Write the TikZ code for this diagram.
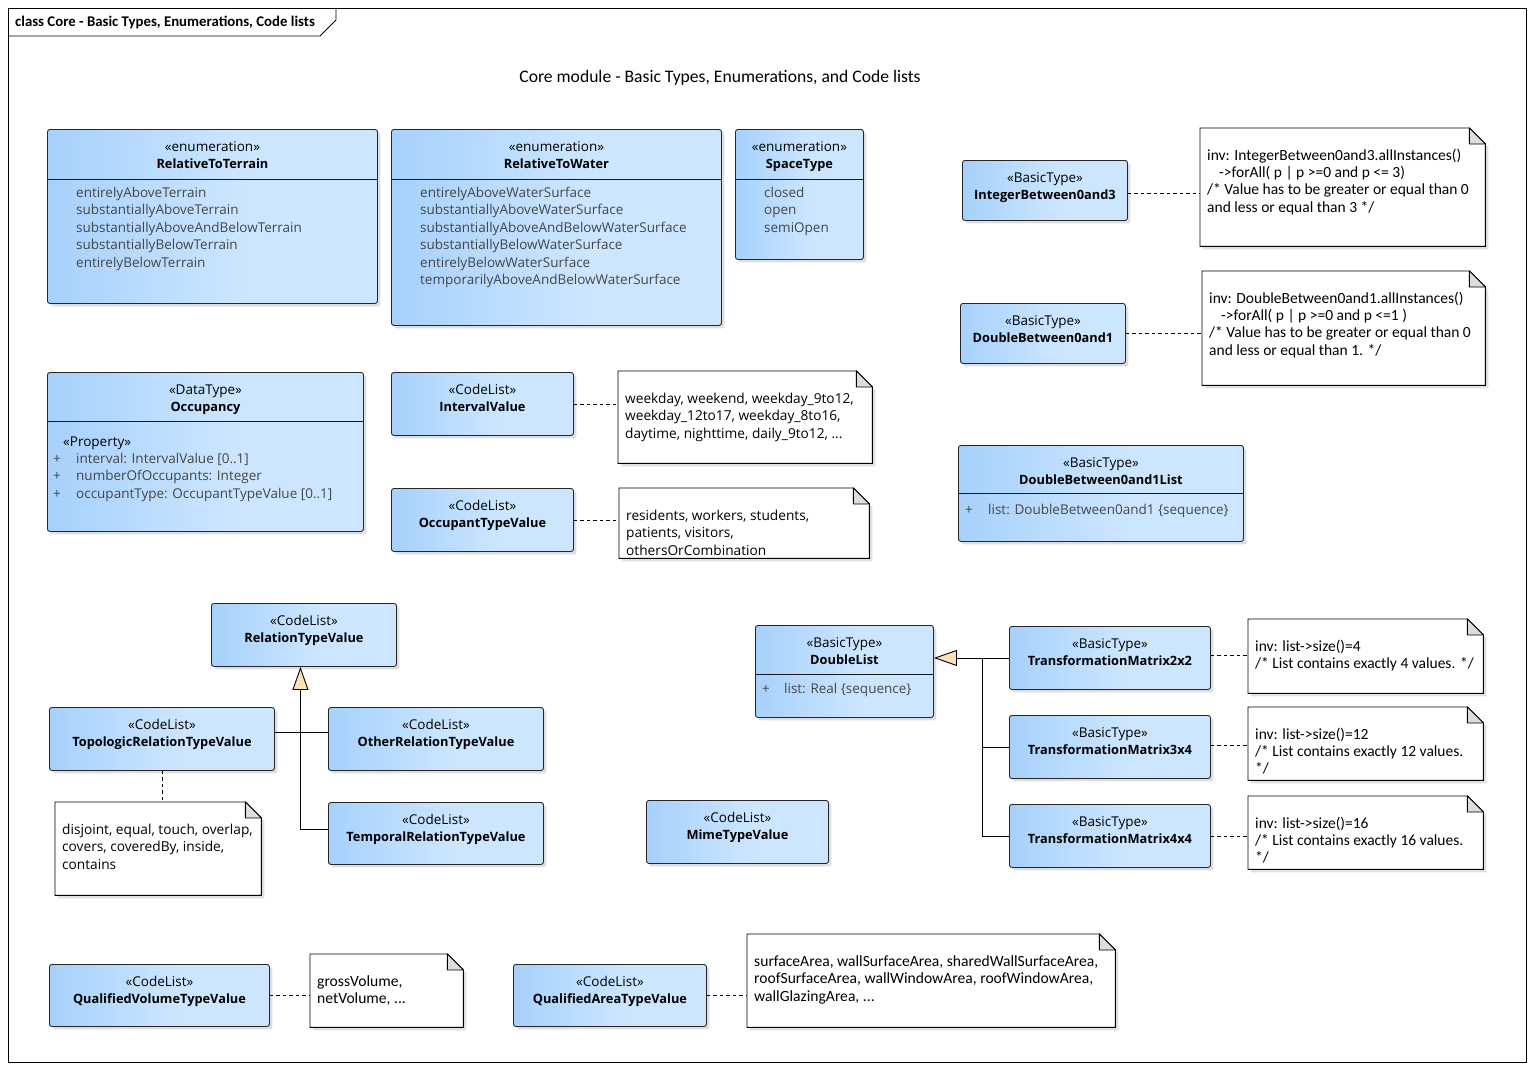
\documentclass[tikz,border=0pt]{standalone}
\usepackage{fontspec}
\setmainfont{Open Sans}
\newfontfamily\notefont{Carlito}
\usetikzlibrary{arrows.meta,shadows,calc}

\definecolor{clsL}{RGB}{166,209,252}
\definecolor{clsR}{RGB}{205,230,255}
\definecolor{tipfill}{RGB}{251,224,184}
\definecolor{attrgray}{RGB}{70,70,70}
\definecolor{foldgray}{RGB}{220,220,220}

% class fill: darker blue at the left edge, fading to light blue towards the middle
\pgfdeclarehorizontalshading{clsgrad}{100bp}{color(0bp)=(clsL); color(25bp)=(clsL); color(55bp)=(clsR); color(100bp)=(clsR)}

% class box with stereotype and name in its head
\newcommand\umlclass[7]{%
  \node[cls, minimum width={#4pt-#2pt}, minimum height={#5pt-#3pt}] (#1) at (#2,#3) {};
  \node[headtxt] (#1-h) at ([yshift=-10pt]#1.north) {\strut«#6»\\{\fontsize{12.8}{17.5}\selectfont\bfseries #7}};
}
% horizontal compartment line inside a class box
\newcommand\compart[3]{\draw[clsline] (#1,#3) -- (#2,#3);}

% note outline with folded corner and soft shadow
\newcommand\drawnote[1]{%
  \fill[black, opacity=0.12] ($(#1.north west)+(3pt,-3pt)$) -- ($(#1.north east)+(-13pt,-3pt)$) -- ($(#1.north east)+(3pt,-19pt)$) -- ($(#1.south east)+(3pt,-3pt)$) -- ($(#1.south west)+(3pt,-3pt)$) -- cycle;
  \filldraw[fill=white, draw=black, line width=0.9pt] (#1.north west) -- ($(#1.north east)+(-16pt,0pt)$) -- ($(#1.north east)+(0pt,-16pt)$) -- (#1.south east) -- (#1.south west) -- cycle;
  \filldraw[fill=foldgray, draw=black, line width=0.9pt, line join=round] ($(#1.north east)+(-16pt,0pt)$) -- ($(#1.north east)+(-16pt,-16pt)$) -- ($(#1.north east)+(0pt,-16pt)$) -- cycle;
}
% note: name, x1, y1, x2, y2, text style, text
\newcommand\umlnote[7]{%
  \node[notebox, minimum width={#4pt-#2pt}, minimum height={#5pt-#3pt}] (#1) at (#2,#3) {};
  \drawnote{#1}
  \node[#6] (#1-t) at ([xshift=7pt,yshift=-20pt]#1.north west) {\strut #7};
}

\begin{document}
\begin{tikzpicture}[x=1pt, y=-1pt,
  cls/.style={draw=black!85, line width=0.9pt, rounded corners=2.5pt, shading=clsgrad,
    anchor=north west, inner sep=0pt,
    drop shadow={shadow xshift=3pt, shadow yshift=-3pt, fill=black, opacity=0.13}},
  clsline/.style={draw=black!90, line width=0.9pt},
  headtxt/.style={anchor=north, align=center, inner sep=0pt, font=\fontsize{13.5}{17.5}\selectfont},
  attrtxt/.style={anchor=north west, align=left, inner sep=0pt, text=attrgray, font=\fontsize{13.5}{17.5}\selectfont},
  notebox/.style={anchor=north west, inner sep=0pt},
  listnote/.style={anchor=north west, align=left, inner sep=0pt, font=\fontsize{13.7}{17.5}\selectfont},
  oclnote/.style={anchor=north west, align=left, inner sep=0pt, font=\notefont\fontsize{15.6}{17.5}\selectfont},
  condnote/.style={anchor=north west, align=left, inner sep=0pt, font=\notefont\fontsize{15.5}{17.3}\selectfont},
  dep/.style={draw=black, line width=0.9pt, dash pattern=on 3.5pt off 3pt},
  gen/.style={draw=black, line width=0.9pt, -{Triangle[length=23pt, width=16pt, fill=tipfill]}},
  tree/.style={draw=black, line width=0.9pt}
]
\useasboundingbox (0,0) rectangle (1533,1069);

% diagram frame and its name tab
\node[draw=black, line width=0.9pt, anchor=north west, inner sep=0pt,
      minimum width=1518pt, minimum height=1054pt] (frame) at (8,8) {};
\draw[line width=0.9pt] (frame.north west) ++(0,28) -- ++(312,0) -- ++(16,-16) -- ++(0,-12);
\node[anchor=west, inner sep=0pt, font=\notefont\bfseries\fontsize{14.8}{16}\selectfont] (flabel) at (15,22)
  {class Core - Basic Types, Enumerations, Code lists};
\node[inner sep=0pt, font=\notefont\fontsize{17.6}{20}\selectfont] (title) at (720,78)
  {Core module - Basic Types, Enumerations, and Code lists};

% ---- enumerations
\umlclass{rtt}{47}{129}{377}{303}{enumeration}{RelativeToTerrain}
\compart{47}{377}{179}
\node[attrtxt] (rtt-a) at (76,185) {\strut entirelyAboveTerrain\\substantiallyAboveTerrain\\substantiallyAboveAndBelowTerrain\\substantiallyBelowTerrain\\entirelyBelowTerrain};

\umlclass{rtw}{391}{129}{721}{325}{enumeration}{RelativeToWater}
\compart{391}{721}{179}
\node[attrtxt] (rtw-a) at (420,185) {\strut entirelyAboveWaterSurface\\substantiallyAboveWaterSurface\\substantiallyAboveAndBelowWaterSurface\\substantiallyBelowWaterSurface\\entirelyBelowWaterSurface\\temporarilyAboveAndBelowWaterSurface};

\umlclass{spc}{735}{129}{863}{259}{enumeration}{SpaceType}
\compart{735}{863}{179}
\node[attrtxt] (spc-a) at (764,185) {\strut closed\\open\\semiOpen};

% ---- bounded basic types with their constraints
\umlclass{int3}{962}{160}{1127}{220}{BasicType}{IntegerBetween0and3}
\umlnote{n3}{1200}{128}{1485}{246}{condnote}{inv: IntegerBetween0and3.allInstances()\\\hspace*{12pt}->forAll( p | p >=0 and p <= 3)\\/* Value has to be greater or equal than 0\\and less or equal than 3 */}
\draw[dep] ([yshift=-3pt]int3.east) -- ([yshift=-3pt]int3.east -| n3.west);

\umlclass{dbl01}{960}{303}{1125}{363}{BasicType}{DoubleBetween0and1}
\umlnote{n01}{1202}{271}{1485}{385}{condnote}{inv: DoubleBetween0and1.allInstances()\\\hspace*{12pt}->forAll( p | p >=0 and p <=1 )\\/* Value has to be greater or equal than 0\\and less or equal than 1. */}
\draw[dep] (dbl01.east) -- (dbl01.east -| n01.west);

\umlclass{dbl01l}{958}{445}{1243}{541}{BasicType}{DoubleBetween0and1List}
\compart{958}{1243}{493}
\node[attrtxt] (dbl01l-p) at (965,502) {\strut +};
\node[attrtxt] (dbl01l-a) at (988,502) {\strut list: DoubleBetween0and1 \{sequence\}};

% ---- occupancy
\umlclass{occ}{47}{372}{363}{531}{DataType}{Occupancy}
\compart{47}{363}{421}
\node[attrtxt, text=black] (occ-s) at (63,434) {\strut«Property»};
\node[attrtxt] (occ-p) at (53,451) {\strut +\\+\\+};
\node[attrtxt] (occ-a) at (76,451) {\strut interval: IntervalValue [0..1]\\numberOfOccupants: Integer\\occupantType: OccupantTypeValue [0..1]};

\umlclass{ival}{391}{372}{573}{435}{CodeList}{IntervalValue}
\umlnote{nival}{618}{371}{872}{463}{listnote}{weekday, weekend, weekday\_9to12,\\weekday\_12to17, weekday\_8to16,\\daytime, nighttime, daily\_9to12, ...}
\draw[dep] (ival.east) -- (ival.east -| nival.west);

\umlclass{otv}{391}{488}{573}{551}{CodeList}{OccupantTypeValue}
\umlnote{notv}{619}{488}{869}{558}{listnote}{residents, workers, students,\\patients, visitors,\\othersOrCombination}
\draw[dep] (otv.east) -- (otv.east -| notv.west);

% ---- relation types
\umlclass{rel}{211}{603}{396}{666}{CodeList}{RelationTypeValue}
\umlclass{topo}{49}{707}{274}{770}{CodeList}{TopologicRelationTypeValue}
\umlclass{other}{328}{707}{543}{770}{CodeList}{OtherRelationTypeValue}
\umlclass{temp}{328}{802}{543}{864}{CodeList}{TemporalRelationTypeValue}
\draw[tree] ([yshift=6.5pt]topo.east) -- ([yshift=6.5pt]other.west);
\draw[gen] ([yshift=4pt]temp.west) -| ([xshift=-3.5pt]rel.south);
\umlnote{ntopo}{55}{802}{261}{895}{listnote}{disjoint, equal, touch, overlap,\\covers, coveredBy, inside,\\contains}
\draw[dep] (topo.south) -- (topo.south |- ntopo.north);

% ---- double list and transformation matrices
\umlclass{dlist}{755}{625}{933}{717}{BasicType}{DoubleList}
\compart{755}{933}{674}
\node[attrtxt] (dlist-p) at (762,681) {\strut +};
\node[attrtxt] (dlist-a) at (784,681) {\strut list: Real \{sequence\}};

\umlclass{tm22}{1009}{626}{1210}{689}{BasicType}{TransformationMatrix2x2}
\umlclass{tm34}{1009}{715}{1210}{778}{BasicType}{TransformationMatrix3x4}
\umlclass{tm44}{1009}{804}{1210}{867}{BasicType}{TransformationMatrix4x4}
\coordinate (dlj) at ($(tm22.west)+(-27pt,0pt)$);
\draw[gen] (tm22.west) -- (tm22.west -| dlist.east);
\draw[tree] (tm34.west) -| (dlj);
\draw[tree] (tm44.west) -| (dlj);

\umlnote{n22}{1248}{619}{1483}{693}{condnote}{inv: list->size()=4\\/* List contains exactly 4 values. */}
\umlnote{n34}{1248}{707}{1483}{780}{condnote}{inv: list->size()=12\\/* List contains exactly 12 values.\\*/}
\umlnote{n44}{1248}{796}{1483}{869}{condnote}{inv: list->size()=16\\/* List contains exactly 16 values.\\*/}
\draw[dep] ([yshift=3pt]tm22.east) -- ([yshift=3pt]tm22.east -| n22.west);
\draw[dep] ([yshift=2pt]tm34.east) -- ([yshift=2pt]tm34.east -| n34.west);
\draw[dep] (tm44.east) -- (tm44.east -| n44.west);

\umlclass{mime}{646}{800}{828}{863}{CodeList}{MimeTypeValue}

% ---- qualified volume and area types
\umlclass{qvol}{49}{964}{269}{1026}{CodeList}{QualifiedVolumeTypeValue}
\umlnote{nvol}{310}{954}{463}{1027}{oclnote}{grossVolume,\\netVolume, ...}
\draw[dep] (qvol.east) -- (qvol.east -| nvol.west);

\umlclass{qarea}{513}{964}{706}{1026}{CodeList}{QualifiedAreaTypeValue}
\umlnote{narea}{747}{934}{1115}{1027}{oclnote}{surfaceArea, wallSurfaceArea, sharedWallSurfaceArea,\\roofSurfaceArea, wallWindowArea, roofWindowArea,\\wallGlazingArea, ...}
\draw[dep] (qarea.east) -- (qarea.east -| narea.west);
\end{tikzpicture}
\end{document}
